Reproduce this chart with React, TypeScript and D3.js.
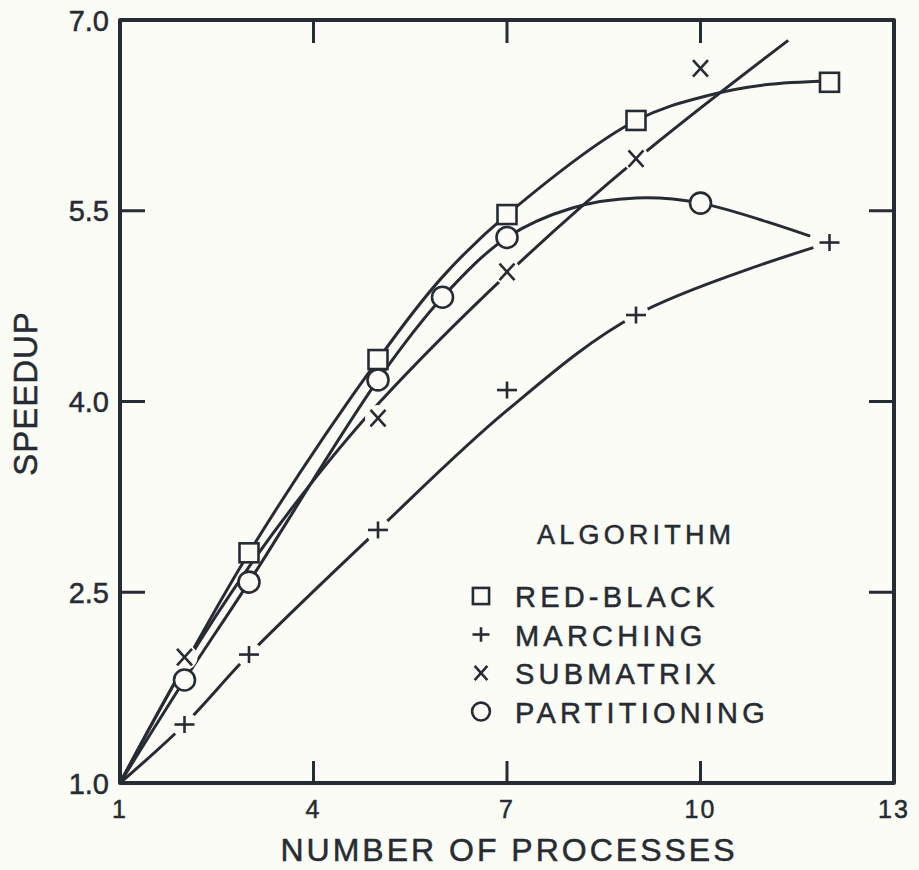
import React from 'react';
import * as d3 from 'd3';

// ---- data ----
const xTickValues = [1, 4, 7, 10, 13];
const yTickValues = [1.0, 2.5, 4.0, 5.5, 7.0];
const innerXTicks = [4, 7, 10];
const innerYTicks = [2.5, 4.0, 5.5];

const seriesNames = ['RED-BLACK', 'MARCHING', 'SUBMATRIX', 'PARTITIONING'];
const seriesSymbols = ['square', 'plus', 'cross', 'circle'];

// measured points (markers)
const redBlackX = [3, 5, 7, 9, 12];
const redBlackY = [2.81, 4.33, 5.47, 6.21, 6.51];
const marchingX = [2, 3, 5, 7, 9, 12];
const marchingY = [1.46, 2.01, 2.99, 4.09, 4.68, 5.25];
const submatrixX = [2, 5, 7, 9, 10];
const submatrixY = [1.99, 3.87, 5.02, 5.91, 6.62];
const partitioningX = [2, 3, 5, 6, 7, 10];
const partitioningY = [1.81, 2.58, 4.17, 4.82, 5.29, 5.56];

// fitted curves
const redBlackFitX = [1, 3, 5, 6, 7, 9, 10.15, 11, 12];
const redBlackFitY = [1, 2.81, 4.33, 4.98, 5.47, 6.21, 6.41, 6.49, 6.52];
const marchingFitX = [1, 2, 3, 5, 7, 9, 11.75];
const marchingFitY = [1, 1.46, 2.01, 2.99, 3.93, 4.68, 5.21];
const submatrixFitX = [1, 2, 3, 4, 5, 7, 9, 11.36];
const submatrixFitY = [1, 1.92, 2.7, 3.38, 3.98, 5.0, 5.9, 6.84];
const partitioningFitX = [1, 2, 3, 5, 6, 7, 8, 9, 10, 11.7];
const partitioningFitY = [1, 1.81, 2.58, 4.17, 4.82, 5.29, 5.52, 5.6, 5.56, 5.3];

const INK = '#272b33';
const BG = '#fcfcf6';
const FONT = '"Liberation Sans", Arial, sans-serif';

const W = 919;
const H = 870;
const left = 120;
const right = 894;
const top = 20;
const bottom = 783;

const x = d3.scaleLinear().domain([1, 13]).range([left, right]);
const y = d3.scaleLinear().domain([1, 7]).range([bottom, top]);

const zip = (xs: number[], ys: number[]) => xs.map((v, i) => [v, ys[i]] as [number, number]);

const line = d3
  .line<[number, number]>()
  .x((d) => x(d[0]))
  .y((d) => y(d[1]))
  .curve(d3.curveCatmullRom.alpha(0.5));

function Marker({ kind, cx, cy, size = 1 }: { kind: string; cx: number; cy: number; size?: number }) {
  const sw = 2.6;
  if (kind === 'square') {
    const s = 19 * size;
    return <rect x={cx - s / 2} y={cy - s / 2} width={s} height={s} fill={BG} stroke={INK} strokeWidth={sw} />;
  }
  if (kind === 'circle') {
    return <circle cx={cx} cy={cy} r={10.5 * size} fill={BG} stroke={INK} strokeWidth={sw} />;
  }
  if (kind === 'plus') {
    const a = 10 * size;
    return (
      <g stroke={INK} strokeWidth={sw}>
        <line x1={cx - a} y1={cy} x2={cx + a} y2={cy} />
        <line x1={cx} y1={cy - a * 0.85} x2={cx} y2={cy + a * 0.85} />
      </g>
    );
  }
  const a = 7.5 * size;
  return (
    <g stroke={INK} strokeWidth={sw}>
      <line x1={cx - a} y1={cy - a * 1.1} x2={cx + a} y2={cy + a * 1.1} />
      <line x1={cx + a} y1={cy - a * 1.1} x2={cx - a} y2={cy + a * 1.1} />
    </g>
  );
}

const textStyle = { fill: INK, stroke: INK, strokeWidth: 0.5 };

export default function App() {
  const fits = [
    zip(redBlackFitX, redBlackFitY),
    zip(marchingFitX, marchingFitY),
    zip(submatrixFitX, submatrixFitY),
    zip(partitioningFitX, partitioningFitY),
  ];
  const markers = [
    zip(redBlackX, redBlackY),
    zip(marchingX, marchingY),
    zip(submatrixX, submatrixY),
    zip(partitioningX, partitioningY),
  ];

  return (
    <svg
      width={W}
      height={H}
      style={{ position: 'absolute', left: 0, top: 0, background: BG }}
      fontFamily={FONT}
    >
      <rect x={0} y={0} width={W} height={H} fill={BG} />

      {/* curves */}
      {fits.map((pts, i) => (
        <path key={i} d={line(pts) || ''} fill="none" stroke={INK} strokeWidth={3} />
      ))}

      {/* halos for open markers to break lines */}
      {markers.map((pts, i) =>
        seriesSymbols[i] === 'plus' || seriesSymbols[i] === 'cross'
          ? pts.map((p, j) => <circle key={`h${i}-${j}`} cx={x(p[0])} cy={y(p[1])} r={13} fill={BG} />)
          : null
      )}

      {markers.map((pts, i) =>
        pts.map((p, j) => <Marker key={`m${i}-${j}`} kind={seriesSymbols[i]} cx={x(p[0])} cy={y(p[1])} />)
      )}

      {/* frame */}
      <rect
        x={left}
        y={top}
        width={right - left}
        height={bottom - top}
        fill="none"
        stroke={INK}
        strokeWidth={4}
        strokeLinejoin="round"
      />

      {/* ticks */}
      {innerXTicks.map((t) => (
        <g key={`xt${t}`} stroke={INK} strokeWidth={3}>
          <line x1={x(t)} y1={bottom} x2={x(t)} y2={bottom - 22} />
          <line x1={x(t)} y1={top} x2={x(t)} y2={top + 23} />
        </g>
      ))}
      {innerYTicks.map((t) => (
        <g key={`yt${t}`} stroke={INK} strokeWidth={3}>
          <line x1={left} y1={y(t)} x2={left + 25} y2={y(t)} />
          <line x1={right} y1={y(t)} x2={right - 25} y2={y(t)} />
        </g>
      ))}

      {/* tick labels */}
      {xTickValues.map((t) => (
        <text key={`xl${t}`} x={x(t)} y={818} textAnchor="middle" fontSize={25} letterSpacing={2} style={textStyle}>
          {String(t)}
        </text>
      ))}
      {yTickValues.map((t) => (
        <text key={`yl${t}`} x={109} y={y(t) + 10.5} textAnchor="end" fontSize={29} style={textStyle}>
          {t.toFixed(1)}
        </text>
      ))}

      {/* axis titles */}
      <text x={(left + right) / 2 + 2} y={861} textAnchor="middle" fontSize={32} letterSpacing={3} style={textStyle}>
        NUMBER OF PROCESSES
      </text>
      <text
        transform={`translate(37, ${(top + bottom) / 2 - 8}) rotate(-90)`}
        textAnchor="middle"
        fontSize={33}
        letterSpacing={1}
        style={textStyle}
      >
        SPEEDUP
      </text>

      {/* legend */}
      <text x={537} y={544} fontSize={27} letterSpacing={4.2} style={textStyle}>
        ALGORITHM
      </text>
      {seriesNames.map((name, i) => {
        const base = 607 + i * 38.5;
        return (
          <g key={name}>
            <Marker kind={seriesSymbols[i]} cx={481} cy={base - 11} size={0.85} />
            <text x={515} y={base} fontSize={29} letterSpacing={4.2} style={textStyle}>
              {name}
            </text>
          </g>
        );
      })}
    </svg>
  );
}
